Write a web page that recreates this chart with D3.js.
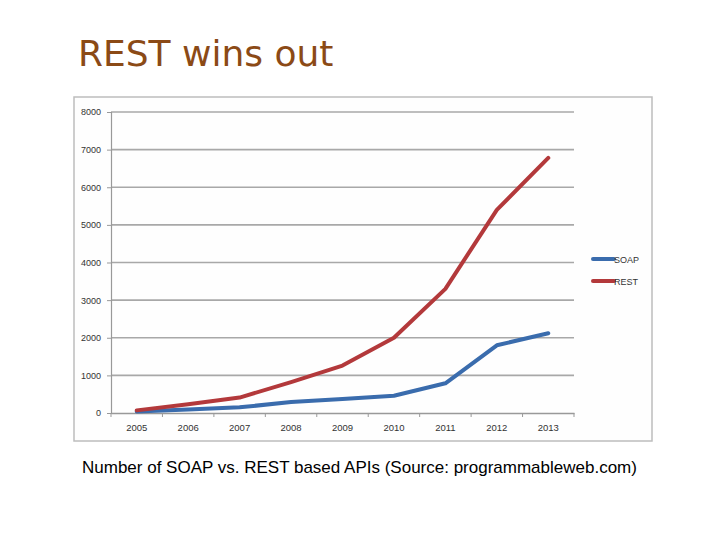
<!DOCTYPE html>
<html><head><meta charset="utf-8">
<script src="https://cdn.jsdelivr.net/npm/d3@7"></script>
<style>body{margin:0;background:#fff}</style>
</head><body>
<script>
const years = ["2005","2006","2007","2008","2009","2010","2011","2012","2013"];
const soap = [40, 90, 150, 290, 370, 460, 790, 1800, 2120];
const rest = [70, 230, 410, 820, 1260, 2000, 3300, 5400, 6780];
const yTicks = [0,1000,2000,3000,4000,5000,6000,7000,8000];
const seriesNames = ["SOAP","REST"];
const colors = ["#3a6cad","#b3393b"];

const W=720,H=540;
const svg=d3.select("body").append("svg").attr("width",W).attr("height",H);
svg.append("rect").attr("width",W).attr("height",H).attr("fill","#fff");

svg.append("text").attr("x",78).attr("y",66).attr("fill","#8b4a16")
  .style("font-family","DejaVu Sans, Verdana, sans-serif").style("font-size","36px")
  .text("REST wins out");

// chart frame
svg.append("rect").attr("x",74).attr("y",97).attr("width",578).attr("height",344)
  .attr("fill","#fefefe").attr("stroke","#bdbdbd").attr("stroke-width",1.5);

const x=d3.scaleBand().domain(years).range([111,574]);
const y=d3.scaleLinear().domain([0,8000]).range([413,112]);

const g=svg.append("g");
// gridlines
g.selectAll("line.grid").data(yTicks.filter(d=>d>0)).join("line")
  .attr("x1",111).attr("x2",574).attr("y1",d=>y(d)).attr("y2",d=>y(d))
  .attr("stroke","#a8a8a8").attr("stroke-width",1.6);

const yAxis=d3.axisLeft(y).tickValues(yTicks).tickFormat(d3.format("d")).tickSize(4).tickPadding(6);
const ya=svg.append("g").attr("transform","translate(111,0)").call(yAxis);
ya.select(".domain").attr("stroke","#999").attr("stroke-width",1.2);
ya.selectAll(".tick line").attr("stroke","#999");
ya.selectAll("text").style("font-family","Liberation Sans, Arial, sans-serif").style("font-size","9px").attr("fill","#333");

const xa=svg.append("g").attr("transform","translate(0,413)").call(d3.axisBottom(x).tickSize(0).tickPadding(11));
xa.select(".domain").attr("stroke","#999").attr("stroke-width",1.5);
xa.selectAll("text").style("font-family","Liberation Sans, Arial, sans-serif").style("font-size","9.5px").attr("fill","#333");
// tick marks at band boundaries
const bounds=years.map(d=>x(d)).concat([x.range()[1]]);
xa.selectAll("line.bt").data(bounds).join("line").attr("class","bt")
  .attr("x1",d=>d).attr("x2",d=>d).attr("y1",0).attr("y2",4).attr("stroke","#999");

const line=d3.line().x((d,i)=>x(years[i])+x.bandwidth()/2).y(d=>y(d));
[soap,rest].forEach((s,k)=>{
  svg.append("path").datum(s).attr("d",line).attr("fill","none")
    .attr("stroke",colors[k]).attr("stroke-width",4).attr("stroke-linejoin","round").attr("stroke-linecap","round");
});

// legend
const lg=svg.append("g");
seriesNames.forEach((n,i)=>{
  const ly=259+i*22;
  lg.append("line").attr("x1",593).attr("x2",614).attr("y1",ly).attr("y2",ly)
    .attr("stroke",colors[i]).attr("stroke-width",4).attr("stroke-linecap","round");
  lg.append("text").attr("x",614).attr("y",ly+3.5).text(n)
    .style("font-family","Liberation Sans, Arial, sans-serif").style("font-size","9px").attr("fill","#333");
});

svg.append("text").attr("x",82).attr("y",473)
  .style("font-family","Liberation Sans, Arial, sans-serif").style("font-size","17px").attr("fill","#000")
  .text("Number of SOAP vs. REST based APIs (Source: programmableweb.com)");
</script>
</body></html>
